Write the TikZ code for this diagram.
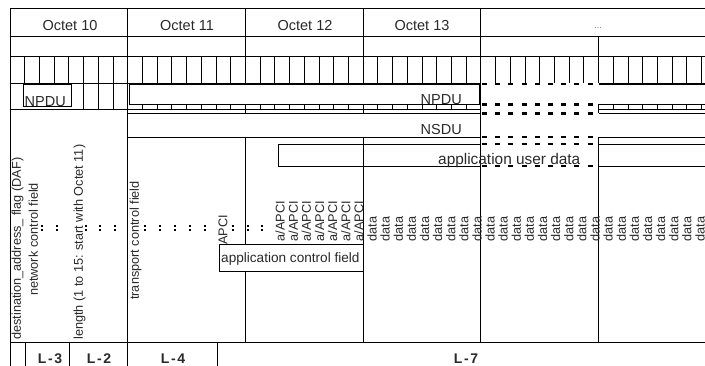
\documentclass[tikz,border=0pt]{standalone}
\usepackage{fontspec}
\setmainfont{Liberation Sans}
\newfontfamily\lblfont[LetterSpace=12]{Liberation Sans}
\definecolor{txt}{HTML}{2A2A2A}
\begin{document}
\begin{tikzpicture}[x=1pt,y=-1pt,
  ln/.style={line width=0.8pt},
  dsh/.style={line width=2.2pt, dash pattern=on 5pt off 8.2pt},
  vt/.style={rotate=90, anchor=west, inner sep=0pt, font=\fontsize{12.7}{14}\selectfont, text=txt},
  ht/.style={inner sep=0pt, text=txt},
  mk/.style={fill=black},
]
\useasboundingbox (0,0) rectangle (705,366);
\fill[white] (0,0) rectangle (705,366);

% ---- header rows
\draw[ln] (10,8) -- (705,8);
\draw[ln] (10,8) -- (10,366);
\draw[ln] (10,36) -- (705,36);
\draw[ln] (10,56) -- (705,56);
\draw[ln] (10,83) -- (481,83);
\draw[ln] (598.5,83) -- (705,83);
\foreach \x in {245.4,363.1} \draw[ln] (\x,8) -- (\x,56);
\draw[ln] (598.5,36) -- (598.5,56);
\draw[ln] (127.7,8) -- (127.7,366);
\draw[ln] (480.8,8) -- (480.8,342);
% bit lines
\foreach \i in {1,...,47} \draw[ln] ({10+\i*14.7125},56) -- ++(0,27);
% octet 10 bit lines continuing
\foreach \i in {5,6,7} \draw[ln] ({10+\i*14.7125},83) -- ++(0,26);
\draw[ln] (10,109) -- (480.8,109);
\draw[ln] (598.5,109) -- (705,109);

% ---- small NPDU box
\draw[ln] (23.3,84.3) rectangle (71,106.7);
\begin{scope}
\clip (23.3,84.3) rectangle (71,106.7);
\node[ht, anchor=base west, font=\fontsize{14.5}{16}\selectfont] (npdus) at (24.5,107) {NPDU};
\end{scope}

% ---- NPDU band
\draw[ln] (129.3,84.3) -- (479.5,84.3) -- (479.5,104.5) -- (129.3,104.5) -- cycle;
\draw[ln] (598.5,84.3) -- (705,84.3);
\draw[ln] (598.5,104.5) -- (705,104.5);
\node[ht, anchor=base east, font=\fontsize{14.5}{16}\selectfont] (npdu) at (462,105) {NPDU};
% ticks
\foreach \i in {9,...,31} \draw[ln] ({10+\i*14.7125},104.5) -- ++(0,4.5);
\foreach \i in {41,...,47} \draw[ln] ({10+\i*14.7125},104.5) -- ++(0,4.5);
\foreach \x in {245.4,363.1,598.5} \draw[ln] (\x,104.5) -- (\x,113.5);

% ---- NSDU band
\draw[ln] (127.7,113.5) -- (480,113.5) -- (480,137) -- (127.7,137);
\draw[ln] (598.5,113.5) -- (705,113.5);
\draw[ln] (598.5,137) -- (705,137);
\node[ht, anchor=base east, font=\fontsize{14.5}{16}\selectfont] (nsdu) at (462,135) {NSDU};

% ---- application user data band
\draw[ln] (480.8,144) -- (278,144) -- (278,166) -- (480.8,166);
\draw[ln] (598.5,144) -- (705,144);
\draw[ln] (598.5,166) -- (705,166);
\node[ht, anchor=base west, font=\fontsize{15.4}{17}\selectfont] (aud) at (438,164.5) {application user data};

% ---- dashed continuation
\foreach \y in {84.3,104.5,113.5,137,144,166} \draw[dsh] (482,\y) -- (598,\y);

% ---- lower section lines
\foreach \x in {245.4,363.1,598.5} \draw[ln] (\x,137) -- (\x,342);
\draw[ln] (10,342) -- (705,342);
\foreach \x in {25,69,217} \draw[ln] (\x,342) -- (\x,366);

% ---- octet labels
\node[ht, font=\fontsize{14.5}{16}\selectfont] (o10) at (70,25.3) {Octet 10};
\node[ht, font=\fontsize{14.5}{16}\selectfont] (o11) at (187,25.3) {Octet 11};
\node[ht, font=\fontsize{14.5}{16}\selectfont] (o12) at (305,25.3) {Octet 12};
\node[ht, font=\fontsize{14.5}{16}\selectfont] (o13) at (422,25.3) {Octet 13};
\node[ht, text=gray, font=\fontsize{9}{10}\selectfont] (dots) at (598,28) {...};

% ---- vertical texts
\node[vt] (daf) at (17.5,340) {destination\_address\_ flag (DAF)};
\node[vt, anchor=center] (ncf) at (33.3,239.5) {network control field};
\node[vt] (len) at (79.5,340) {length (1 to 15: start with Octet 11)};
\node[vt] (tcf) at (135.5,300) {transport control field};
\node[vt] (apci) at (223,245) {APCI};
\foreach \k in {0,...,6} \node[vt] (aapci\k) at ({280.2+\k*13.12},241.5) {a/APCI};
\foreach \k in {0,...,25} \node[vt] (data\k) at ({372+\k*13.12},241.5) {data};

% ---- dotted marks
\foreach \x in {42,57,86,100,115,145,160,175,190,205,233,248,262} {
  \fill[mk] (\x-0.8,225) rectangle ++(1.6,1.6);
  \fill[mk] (\x-0.8,229) rectangle ++(1.6,1.6);
}

% ---- application control field
\node[draw, line width=0.8pt, fill=white, inner sep=0pt, minimum width=144pt, minimum height=27pt, anchor=north west] (acf) at (219,244) {};
\node[ht, anchor=base west, font=\fontsize{13.6}{15}\selectfont] (acft) at (221,263) {application control field};

% ---- layer labels
\node[ht, font=\lblfont\bfseries\fontsize{14}{16}\selectfont] (l3) at (50,359) {L-3};
\node[ht, font=\lblfont\bfseries\fontsize{14}{16}\selectfont] (l2) at (99,359) {L-2};
\node[ht, font=\lblfont\bfseries\fontsize{14}{16}\selectfont] (l4) at (173,359) {L-4};
\node[ht, font=\lblfont\bfseries\fontsize{14}{16}\selectfont] (l7) at (466,359) {L-7};
\end{tikzpicture}
\end{document}
